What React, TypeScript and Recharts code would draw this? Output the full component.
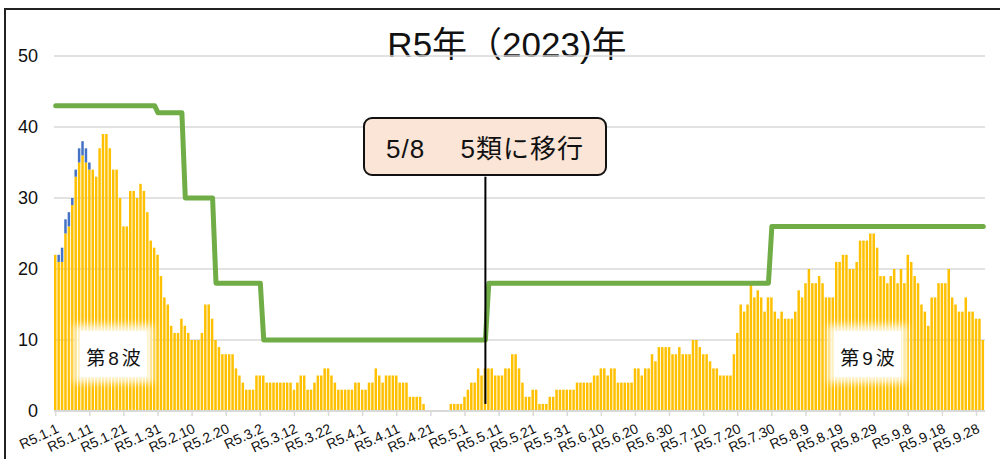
import React from 'react';
import {
  ComposedChart,
  Bar,
  Line,
  XAxis,
  YAxis,
  CartesianGrid,
  ReferenceLine,
} from 'recharts';

// days per month, Jan..Sep (R5 = 2023)
const monthDays = [31, 28, 31, 30, 31, 30, 31, 31, 30];

// daily counts (yellow), one row per 10 days starting R5.1.1
const dailyCases = [
  22, 21, 21, 25, 26, 29, 33, 35, 36, 35,
  34, 34, 33, 37, 39, 39, 37, 34, 34, 30,
  26, 26, 31, 31, 30, 32, 31, 28, 24, 23,
  22, 19, 16, 15, 12, 11, 11, 13, 12, 11,
  10, 10, 10, 11, 15, 15, 13, 10, 9, 8,
  8, 8, 8, 6, 5, 4, 3, 3, 3, 5,
  5, 5, 4, 4, 4, 4, 4, 4, 4, 4,
  3, 4, 5, 5, 3, 3, 4, 5, 5, 6,
  6, 5, 4, 3, 3, 3, 3, 3, 4, 4,
  3, 3, 4, 4, 6, 5, 4, 5, 5, 5,
  5, 4, 4, 4, 2, 2, 2, 2, 1, 0,
  0, 0, 0, 0, 0, 0, 1, 1, 1, 1,
  2, 3, 4, 4, 6, 5, 6, 6, 6, 5,
  5, 5, 6, 6, 8, 8, 6, 4, 2, 2,
  3, 3, 1, 1, 1, 2, 2, 3, 3, 3,
  3, 3, 3, 4, 4, 4, 4, 4, 5, 5,
  6, 6, 5, 6, 6, 4, 4, 4, 4, 4,
  6, 6, 5, 6, 6, 8, 7, 9, 9, 9,
  9, 8, 8, 9, 8, 8, 8, 10, 10, 9,
  8, 8, 7, 6, 6, 5, 5, 5, 5, 8,
  11, 15, 14, 15, 18, 16, 17, 16, 14, 16,
  16, 14, 13, 14, 13, 13, 13, 14, 17, 16,
  18, 20, 18, 18, 19, 18, 16, 16, 16, 21,
  21, 22, 22, 20, 20, 21, 24, 24, 24, 25,
  25, 23, 19, 19, 18, 19, 20, 18, 20, 18,
  22, 21, 19, 18, 15, 14, 12, 16, 16, 18,
  18, 18, 20, 16, 15, 14, 14, 16, 14, 14,
  13, 13, 10,
];

// blue part stacked on top, only in early January
const extraCases = [0, 1, 2, 2, 2, 1, 1, 2, 2, 2, 1];

// green step line: level and the last day (1-based) it holds
const bedLevels = [43, 42, 30, 18, 10, 18, 26];
const bedUntilDay = [30, 38, 47, 61, 127, 210, 273];

const yTicks = [0, 10, 20, 30, 40, 50];

const dates: string[] = [];
monthDays.forEach((n, m) => {
  for (let d = 1; d <= n; d++) dates.push(`R5.${m + 1}.${d}`);
});

const levelForDay = (day: number) => {
  const idx = bedUntilDay.findIndex((end) => day <= end);
  return bedLevels[idx];
};

const chartData = dailyCases.map((v, i) => ({
  date: dates[i],
  yellow: v,
  blue: extraCases[i] ?? 0,
  beds: levelForDay(i + 1),
}));

const FONT = '"Liberation Sans", Arial, "Noto Sans CJK JP", sans-serif';

const DateTick = (props: any) => {
  const { x, y, payload } = props;
  const ax = x + 4;
  const ay = y + 14;
  return (
    <text
      x={ax}
      y={ay}
      transform={`rotate(-25, ${ax}, ${ay})`}
      textAnchor="end"
      fontSize={14}
      fontFamily={FONT}
      fill="#111"
    >
      {payload.value}
    </text>
  );
};

const waveLabel = (left: number, text: string) => (
  <div
    style={{
      position: 'absolute',
      left,
      top: 331,
      width: 67,
      height: 46,
      background: '#fff',
      boxShadow: '0 0 7px 6px rgba(255,255,255,0.85)',
      display: 'flex',
      alignItems: 'center',
      justifyContent: 'center',
      fontSize: 19,
      letterSpacing: 3,
      paddingLeft: 3,
      fontFamily: FONT,
      color: '#111',
      paddingTop: 4,
      boxSizing: 'border-box',
    }}
  >
    {text}
  </div>
);

export default function App() {
  return (
    <div
      style={{
        position: 'absolute',
        left: 0,
        top: 0,
        width: 1000,
        height: 459,
        overflow: 'hidden',
        background: '#fff',
        fontFamily: FONT,
      }}
    >
      <div
        style={{
          position: 'absolute',
          left: 4,
          top: 8,
          width: 1200,
          height: 800,
          borderLeft: '2px solid #222',
          borderTop: '2px solid #222',
        }}
      />
      <div
        style={{
          position: 'absolute',
          left: 0,
          top: 16,
          width: 1014,
          textAlign: 'center',
          fontSize: 35,
          color: '#111',
          fontFamily: FONT,
        }}
      >
        R5年（2023)年
      </div>
      <div style={{ position: 'absolute', left: 0, top: 0 }}>
        <ComposedChart
          width={1000}
          height={459}
          data={chartData}
          margin={{ top: 56, right: 15, bottom: 8, left: 8 }}
        >
          <CartesianGrid vertical={false} stroke="#d9d9d9" strokeWidth={1.5} />
          <XAxis
            dataKey="date"
            interval={9}
            height={40}
            tick={<DateTick />}
            tickSize={5}
            tickLine={{ stroke: '#d9d9d9', strokeWidth: 1.5 }}
            axisLine={{ stroke: '#d9d9d9', strokeWidth: 2 }}
          />
          <YAxis
            width={46}
            domain={[0, 50]}
            ticks={yTicks}
            axisLine={false}
            tickLine={false}
            tickMargin={10}
            tick={{ fontSize: 18, fill: '#111', fontFamily: FONT }}
          />
          <Bar dataKey="yellow" stackId="a" fill="#FFC000" barSize={2.5} isAnimationActive={false} />
          <Bar dataKey="blue" stackId="a" fill="#4472C4" barSize={2.5} isAnimationActive={false} />
          <Line
            type="linear"
            dataKey="beds"
            stroke="#70AD47"
            strokeWidth={5}
            strokeLinejoin="round"
            strokeLinecap="round"
            dot={false}
            activeDot={false}
            isAnimationActive={false}
          />
          <ReferenceLine
            segment={[
              { x: dates[126], y: 1 },
              { x: dates[126], y: 33 },
            ]}
            stroke="#000"
            strokeWidth={2}
          />
        </ComposedChart>
      </div>
      <div
        style={{
          position: 'absolute',
          left: 363,
          top: 117,
          width: 244,
          height: 59,
          boxSizing: 'border-box',
          background: '#FBE5D6',
          border: '2px solid #111',
          borderRadius: 9,
          display: 'flex',
          alignItems: 'center',
          justifyContent: 'center',
          fontSize: 26,
          letterSpacing: 1,
          color: '#111',
          whiteSpace: 'pre',
          fontFamily: FONT,
        }}
      >
        {'5/8\u3000 5類に移行'}
      </div>
      {waveLabel(80, '第8波')}
      {waveLabel(834, '第9波')}
    </div>
  );
}
